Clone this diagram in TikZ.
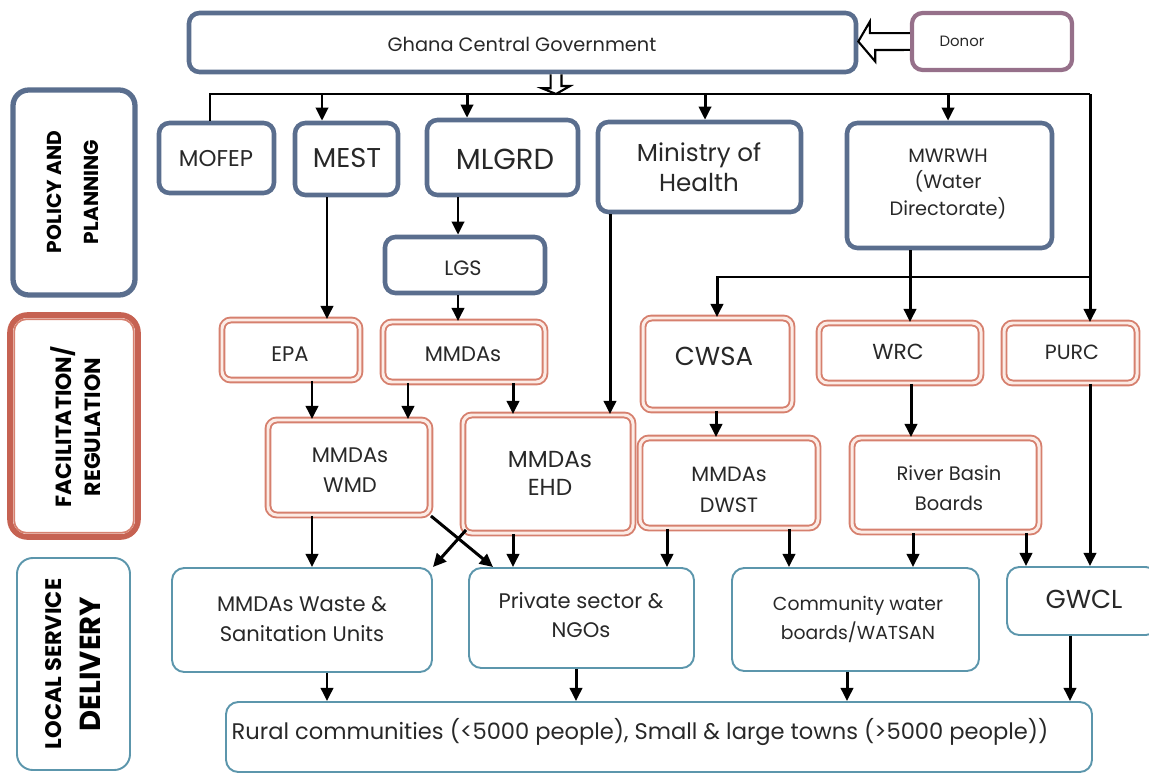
\documentclass[tikz,border=0pt]{standalone}
\usepackage{fontspec}
\setmainfont{Poppins}
\usetikzlibrary{fit,arrows.meta}
\definecolor{blueb}{RGB}{90,110,142}
\definecolor{redb}{RGB}{214,128,110}
\definecolor{redgap}{RGB}{252,236,230}
\definecolor{redl}{RGB}{198,98,82}
\definecolor{lblue}{RGB}{92,150,172}
\definecolor{mauve}{RGB}{150,112,138}
\definecolor{txt}{RGB}{40,40,40}
\newcommand{\fz}[2]{\fontsize{#1pt}{#2pt}\selectfont}
\begin{document}
\begin{tikzpicture}[x=0.02cm,y=-0.02cm,
  every node/.style={text=txt},
  bbox/.style={draw=blueb, line width=2.6pt, rounded corners=6pt, inner sep=0pt},
  rbox/.style={draw=redb, line width=1.1pt, double=redgap, double distance=1.7pt, rounded corners=5pt, inner sep=0pt},
  lbox/.style={draw=lblue, line width=1.1pt, rounded corners=7pt, inner sep=0pt},
  pbox/.style={draw=mauve, line width=2.4pt, rounded corners=6pt, inner sep=0pt},
  tx/.style={align=center, inner sep=0pt},
  ln/.style={line width=1.7pt, draw=black},
  arr/.style={ln, -{Triangle[length=7.5pt,width=7pt]}},
  blk/.style={draw=black, fill=white, line width=1.2pt, line join=miter},
  lab/.style={rotate=90, align=center, text=black, inner sep=0pt},
]
\useasboundingbox (0,0) rectangle (1149,774);

% ---- top ----
\node[bbox, fit={(189,13) (856,72)}] (gov) {};
\node[tx, font=\fz{11}{13}] (govt) at (522,44) {Ghana Central Government};
\node[pbox, fit={(912,13) (1072,70)}] (donor) {};
\node[tx, font=\fz{8.5}{10}] (donort) at (962,41) {Donor};

% ---- policy row ----
\node[bbox, fit={(159,123) (274,193)}] (mofep) {};
\node[tx, font=\fz{13}{15}] (mofept) at (216,159) {MOFEP};
\node[bbox, fit={(295,123) (398,195)}] (mest) {};
\node[tx, font=\fz{15.5}{18}] (mestt) at (347,158) {MEST};
\node[bbox, fit={(427,120) (578,195)}] (mlgrd) {};
\node[tx, font=\fz{16.5}{19}] (mlgrdt) at (505,159) {MLGRD};
\node[bbox, fit={(598,122) (801,212)}] (moh) {};
\node[tx, font=\fz{14}{17}] (moht) at (699,167) {Ministry of\\Health};
\node[bbox, fit={(847,123) (1052,248)}] (mwrwh) {};
\node[tx, font=\fz{11}{15}] (mwrwht) at (948,184) {MWRWH\\(Water\\Directorate)};
\node[bbox, fit={(385,237) (545,293)}] (lgs) {};
\node[tx, font=\fz{11.8}{14}] (lgst) at (463,268) {LGS};

% ---- facilitation row ----
\node[rbox, fit={(222,320) (360,380)}] (epa) {};
\node[tx, font=\fz{12}{14}] (epat) at (290,354) {EPA};
\node[rbox, fit={(383,322) (545,382)}] (mmdas) {};
\node[tx, font=\fz{12}{14}] (mmdast) at (463,354) {MMDAs};
\node[rbox, fit={(643,318) (792,410)}] (cwsa) {};
\node[tx, font=\fz{14.8}{17}] (cwsat) at (714,356) {CWSA};
\node[rbox, fit={(819,323) (981,383)}] (wrc) {};
\node[tx, font=\fz{12.4}{14}] (wrct) at (898,352) {WRC};
\node[rbox, fit={(1004,323) (1137,383)}] (purc) {};
\node[tx, font=\fz{11.7}{14}] (purct) at (1072,352) {PURC};
\node[rbox, fit={(268,420) (430,515)}] (wmd) {};
\node[tx, font=\fz{12}{17}] (wmdt) at (350,470) {MMDAs\\WMD};
\node[rbox, fit={(463,415) (633,533)}] (ehd) {};
\node[tx, font=\fz{13.2}{16}] (ehdt) at (550,473) {MMDAs\\EHD};
\node[rbox, fit={(640,438) (818,528)}] (dwst) {};
\node[tx, font=\fz{11.8}{18}] (dwstt) at (729,490) {MMDAs\\DWST};
\node[rbox, fit={(852,438) (1039,532)}] (rbb) {};
\node[tx, font=\fz{11.1}{17}] (rbbt) at (949,488) {River Basin\\Boards};

% ---- delivery row ----
\node[lbox, fit={(172,568) (432,672)}] (waste) {};
\node[tx, font=\fz{12}{17}] (wastet) at (302,619) {MMDAs Waste \&\\Sanitation Units};
\node[lbox, fit={(469,568) (694,668)}] (priv) {};
\node[tx, font=\fz{12}{17}] (privt) at (581,615) {Private sector \&\\NGOs};
\node[lbox, fit={(732,568) (979,671)}] (comm) {};
\node[tx, font=\fz{10.7}{16.5}] (commt) at (858,619) {Community water\\boards/WATSAN};
\node[lbox, fit={(1007,567) (1158,635)}] (gwcl) {};
\node[tx, font=\fz{14.8}{17}] (gwclt) at (1084,599) {GWCL};
\node[lbox, fit={(226,702) (1092,772)}] (rural) {};
\node[tx, font=\fz{12.85}{15}] (ruralt) at (640,732) {Rural communities (<5000 people), Small \& large towns (>5000 people))};

% ---- side labels ----
\node[draw=blueb, line width=3pt, rounded corners=9pt, inner sep=0pt, fit={(13,90) (135,295)}] (lab1) {};
\node[lab, font=\bfseries\fz{11.5}{21}] (lab1t) at (73,192) {POLICY AND\\PLANNING};
\node[draw=redl, line width=3.2pt, rounded corners=10pt, inner sep=0pt, fit={(10,315) (138,537)}] (lab2) {};
\draw[redb, line width=1pt, rounded corners=7pt] ([shift={(7,-7)}]lab2.south west) rectangle ([shift={(-7,7)}]lab2.north east);
\node[lab, font=\bfseries\fz{12.5}{16.5}] (lab2t) at (76,427) {FACILITATION/\\REGULATION};
\node[lbox, rounded corners=9pt, fit={(17,558) (130,770)}] (lab3) {};
\node[lab, font=\bfseries\fz{12.8}{15}] (lab3a) at (54,664) {LOCAL SERVICE};
\node[lab, font=\bfseries\fz{16.5}{19}] (lab3b) at (90,664) {DELIVERY};

% ---- hollow block arrows ----
\coordinate (hgov) at (556,94);
\coordinate (hs) at (gov.south -| hgov);
\draw[blk] ([xshift=-3.1pt]hs) -- ++(0,14) -- ++(-8.5,0) -- (hgov) -- ++(14,-8) -- ++(-8.5,0) -- ([xshift=3.1pt]hs);
\coordinate (dtip) at (gov.east |- donor.west);
\draw[blk] ([yshift=4.8pt]donor.west) -- ++(-40,0) -- ++(0,-11.5) -- (dtip) -- ++(17,20) -- ++(0,-11.5) -- ([yshift=-4.8pt]donor.west);

% ---- connectors ----
\coordinate (busL) at (210,94);
\coordinate (busR) at (1090,94);
\draw[ln] (mofep.north -| busL) -- (busL) -- (busR);
\draw[arr] (busR) -- (purc.north -| busR);

\coordinate (b1) at (322,94);
\coordinate (b2) at (467,94);
\coordinate (b3) at (705,94);
\coordinate (b4) at (948,94);
\draw[arr] (b1) -- (mest.north -| b1);
\draw[arr] (b2) -- (mlgrd.north -| b2);
\draw[arr] (b3) -- (moh.north -| b3);
\draw[arr] (b4) -- (mwrwh.north -| b4);

\coordinate (xMest) at (327,0);
\draw[arr] (mest.south -| xMest) -- (epa.north -| xMest);
\coordinate (xLgs) at (458,0);
\draw[arr] (mlgrd.south -| xLgs) -- (lgs.north -| xLgs);
\draw[arr] (lgs.south -| xLgs) -- (mmdas.north -| xLgs);
\coordinate (xMoh) at (610,0);
\draw[arr] (moh.south -| xMoh) -- (ehd.north -| xMoh);

\coordinate (jW) at (910,277);
\coordinate (jC) at (717,277);
\draw[arr] (mwrwh.south -| jW) -- (wrc.north -| jW);
\draw[arr] (busR |- jC) -- (jC) -- (cwsa.north -| jC);

\coordinate (x312) at (312,0);
\coordinate (x408) at (408,0);
\coordinate (x513) at (513,0);
\coordinate (x716) at (716,0);
\coordinate (x911) at (911,0);
\draw[arr] (epa.south -| x312) -- (wmd.north -| x312);
\draw[arr] (mmdas.south -| x408) -- (wmd.north -| x408);
\draw[arr] (mmdas.south -| x513) -- (ehd.north -| x513);
\draw[arr] (cwsa.south -| x716) -- (dwst.north -| x716);
\draw[arr] (wrc.south -| x911) -- (rbb.north -| x911);
\draw[arr] (purc.south -| busR) -- (gwcl.north -| busR);

\draw[arr] (wmd.south -| x312) -- (waste.north -| x312);
\coordinate (xdA) at (493,0);
\draw[arr] (wmd.south east) -- (priv.north -| xdA);
\draw[arr] ([shift={(4,-4)}]ehd.south west) -- (waste.north east);
\draw[arr] (ehd.south -| x513) -- (priv.north -| x513);
\coordinate (x667) at (667,0);
\coordinate (x789) at (789,0);
\coordinate (x913) at (913,0);
\coordinate (x1026) at (1026,0);
\draw[arr] (dwst.south -| x667) -- (priv.north -| x667);
\draw[arr] (dwst.south -| x789) -- (comm.north -| x789);
\draw[arr] (rbb.south -| x913) -- (comm.north -| x913);
\draw[arr] (rbb.south -| x1026) -- (gwcl.north -| x1026);

\coordinate (x327) at (327,0);
\coordinate (x576) at (576,0);
\coordinate (x847) at (847,0);
\coordinate (x1070) at (1070,0);
\draw[arr] (waste.south -| x327) -- (rural.north -| x327);
\draw[arr] (priv.south -| x576) -- (rural.north -| x576);
\draw[arr] (comm.south -| x847) -- (rural.north -| x847);
\draw[arr] (gwcl.south -| x1070) -- (rural.north -| x1070);
\end{tikzpicture}
\end{document}
